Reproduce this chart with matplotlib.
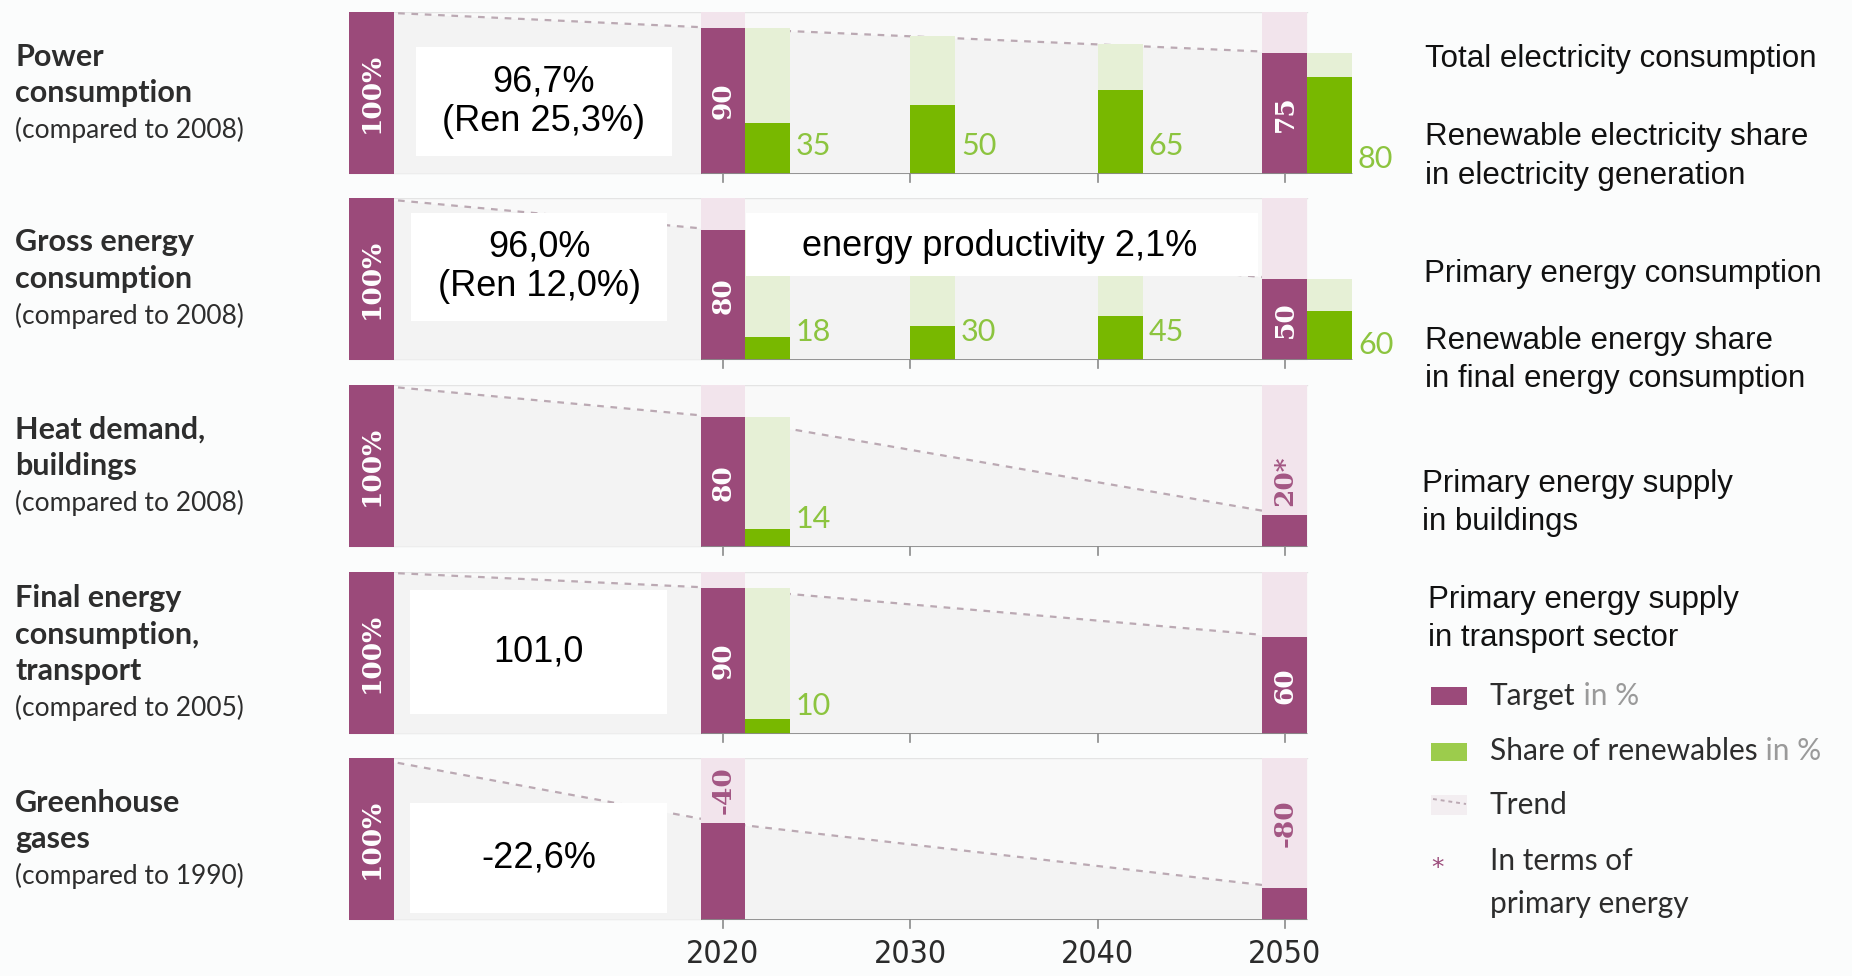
#energy concept targets, drawn as one row of bars per indicator
import matplotlib.pyplot as plt
from matplotlib import font_manager
from matplotlib.patches import Rectangle

W, H = 1852, 976

# indicators, top to bottom
row_titles = [["Power", "consumption"],
              ["Gross energy", "consumption"],
              ["Heat demand,", "buildings"],
              ["Final energy", "consumption,", "transport"],
              ["Greenhouse", "gases"]]
row_refs = ["(compared to 2008)", "(compared to 2008)", "(compared to 2008)",
            "(compared to 2005)", "(compared to 1990)"]

years = [2020, 2030, 2040, 2050]
target_years = [2020, 2050]

# targets in % of the reference year
power_target = [90, 75]
gross_target = [80, 50]
heat_target = [80, 20]
transport_target = [90, 60]
ghg_target = [-40, -80]   # change in %

# renewables share (in %) and the total level it refers to
power_share_years = [2020, 2030, 2040, 2050]
power_share = [35, 50, 65, 80]
power_total = [90, 85, 80, 75]
gross_share_years = [2020, 2030, 2040, 2050]
gross_share = [18, 30, 45, 60]
gross_total = [80, 70, 60, 50]
heat_share_years = [2020]
heat_share = [14]
heat_total = [80]
transport_share_years = [2020]
transport_share = [10]
transport_total = [90]

# current status
status_text = ["96,7%\n(Ren 25,3%)", "96,0%\n(Ren 12,0%)", None, "101,0", "-22,6%"]

rows = [
    dict(target=power_target, labels=["90", "75"], sy=power_share_years, share=power_share, total=power_total),
    dict(target=gross_target, labels=["80", "50"], sy=gross_share_years, share=gross_share, total=gross_total),
    dict(target=heat_target, labels=["80", "20*"], sy=heat_share_years, share=heat_share, total=heat_total),
    dict(target=transport_target, labels=["90", "60"], sy=transport_share_years, share=transport_share, total=transport_total),
    dict(target=[100 + v for v in ghg_target], labels=[str(v) for v in ghg_target], sy=[], share=[], total=[], cut=True),
]

purple = "#9b4a7a"
pink = "#f2e4ec"
green = "#78b800"
light_green = "#e6f0d6"
green_text = "#8cc43f"
bg_low = "#f3f3f3"
bg_high = "#f9f9f9"
fig_bg = "#fbfcfc"
axis_col = "#8a8a8a"
trend_col = "#bba9b3"

# narrow face for the year axis if there is one
fonts = font_manager.fontManager.ttflist
names = {f.name for f in fonts}
year_style = dict(family="Lato", fontsize=24)
if "Liberation Sans Narrow" in names:
    year_style = dict(family="Liberation Sans Narrow", fontsize=26)
elif any(f.name == "DejaVu Sans" and f.stretch == "condensed" for f in fonts):
    year_style = dict(family="DejaVu Sans", fontstretch="condensed", fontsize=23)

PX_2020, PX_YEAR = 723, 18.73
def year_at(px):
    return 2020 + (px - PX_2020) / PX_YEAR

ax_left, ax_right = 349, 1420
x0, x1 = year_at(ax_left), year_at(ax_right)
BAR_W = 2.4
row_top = [12, 198, 385, 572, 758]
row_h = 162

fig = plt.figure(figsize=(W / 100, H / 100), dpi=100, facecolor=fig_bg)

for i, r in enumerate(rows):
    top = row_top[i]
    ax = fig.add_axes([ax_left / W, 1 - (top + row_h) / H, (ax_right - ax_left) / W, row_h / H])
    ax.set_xlim(x0, x1)
    ax.set_ylim(0, 100)
    ax.axis("off")

    base_c = x0 + BAR_W / 2
    end = 2050 + BAR_W / 2
    tx = [x0, base_c] + target_years + [end]
    ty = [100, 100] + r["target"] + [r["target"][-1]]

    # panel background, darker below the trend
    ax.fill_between(tx, ty, 100, color=bg_high, lw=0, zorder=0)
    ax.fill_between(tx, 0, ty, color=bg_low, lw=0, zorder=0)
    ax.plot([x0, end], [100, 100], color="#e4e4e4", lw=1, zorder=1)
    ax.plot([x0, 2020 - BAR_W / 2], [0, 0], color="#d9d9d9", lw=1, zorder=1)
    ax.plot(tx[1:-1], ty[1:-1], color=trend_col, lw=1.6, ls=(0, (3, 3)), zorder=2)

    # reference year bar
    ax.bar(base_c, 100, width=BAR_W, color=purple, zorder=3)
    ax.text(base_c, 50, "100%", rotation=90, ha="center", va="center", color="white",
            family="DejaVu Serif", weight="bold", fontsize=19, zorder=6)

    # target bars
    for yr, h, lab in zip(target_years, r["target"], r["labels"]):
        ax.bar(yr, 100 - h, bottom=h, width=BAR_W, color=pink, zorder=3)
        ax.bar(yr, h, width=BAR_W, color=purple, zorder=4)
        if r.get("cut"):
            ax.text(yr, (h + 100) / 2, lab, rotation=90, ha="center", va="center", color="#a35683",
                    family="DejaVu Serif", weight="bold", fontsize=19, zorder=6)
        elif h < 30:
            ax.text(yr, h + 5, lab, rotation=90, ha="center", va="bottom", color="#a35683",
                    family="DejaVu Serif", weight="bold", fontsize=19, zorder=6)
        else:
            ax.text(yr, h / 2, lab, rotation=90, ha="center", va="center", color="white",
                    family="DejaVu Serif", weight="bold", fontsize=19, zorder=6)

    # renewables share bars
    right = end
    for yr, s, tot in zip(r["sy"], r["share"], r["total"]):
        left = yr + BAR_W / 2 if yr in target_years else yr
        ax.bar(left, tot, width=BAR_W, align="edge", color=light_green, zorder=3)
        ax.bar(left, s * tot / 100, width=BAR_W, align="edge", color=green, zorder=4)
        ly = 9 if yr == 2050 else 17
        ax.text(left + BAR_W + 0.3, ly, str(s), ha="left", va="center", color=green_text,
                family="Lato", fontsize=22, zorder=6)
        right = max(right, left + BAR_W)

    ax.plot([2020 - BAR_W / 2, right], [0, 0], color=axis_col, lw=2, zorder=5, solid_capstyle="butt")
    for yr in years:
        ax.plot([yr, yr], [0, -5], color=axis_col, lw=1.2, clip_on=False, zorder=5)

    if i == len(rows) - 1:
        for yr in years:
            ax.text(yr, -21, str(yr), ha="center", va="center", color="#2b2b2b", **year_style)

# overlay in pixel coordinates for captions, boxes and legend
ov = fig.add_axes([0, 0, 1, 1])
ov.set_xlim(0, W)
ov.set_ylim(H, 0)
ov.axis("off")

for i, (title, ref) in enumerate(zip(row_titles, row_refs)):
    lines = title + [ref]
    n = len(lines)
    c = row_top[i] + row_h / 2
    for k, line in enumerate(lines):
        y = c + (k - (n - 1) / 2) * 36.5
        last = k == n - 1
        ov.text(15, y, line, ha="left", va="center", color="#2d2d2d", family="Lato",
                weight="normal" if last else "bold", fontsize=19 if last else 22)

# status boxes
boxes = [(416, 47, 672, 156), (411, 213, 667, 321), None, (410, 590, 667, 714), (410, 803, 667, 913)]
for b, txt in zip(boxes, status_text):
    if b is None:
        continue
    ov.add_patch(Rectangle((b[0], b[1]), b[2] - b[0], b[3] - b[1], facecolor="white", lw=0, zorder=5))
    ov.text((b[0] + b[2]) / 2, (b[1] + b[3]) / 2, txt, ha="center", va="center", color="black",
            family="Liberation Sans", fontsize=26, linespacing=1.15, zorder=6)
ov.add_patch(Rectangle((746, 213), 512, 63, facecolor="white", lw=0, zorder=5))
ov.text(1000, 246, "energy productivity 2,1%", ha="center", va="center", color="black",
        family="Liberation Sans", fontsize=26, zorder=6)

# descriptions on the right
notes = [("Total electricity consumption", 1425, 59),
         ("Renewable electricity share", 1425, 137),
         ("in electricity generation", 1425, 176),
         ("Primary energy consumption", 1424, 274),
         ("Renewable energy share", 1425, 341),
         ("in final energy consumption", 1425, 379),
         ("Primary energy supply", 1422, 484),
         ("in buildings", 1422, 522),
         ("Primary energy supply", 1428, 600),
         ("in transport sector", 1428, 638)]
for txt, x, y in notes:
    ov.text(x, y, txt, ha="left", va="center", color="#111111", family="Liberation Sans", fontsize=22.5)

# legend
ov.add_patch(Rectangle((1431, 687), 36, 18, facecolor=purple, lw=0))
ov.add_patch(Rectangle((1431, 743), 36, 18, facecolor="#9ccc4c", lw=0))
ov.add_patch(Rectangle((1431, 795), 36, 20, facecolor="#f3eef1", lw=0))
ov.plot([1433, 1466], [799, 804], color=trend_col, lw=1.4, ls=(0, (2, 2)))
ov.text(1438, 868, "*", ha="center", va="center", color=purple, fontsize=18)

legend_rows = [("Target", " in %", 696), ("Share of renewables", " in %", 751),
               ("Trend", "", 805), ("In terms of", "", 861), ("primary energy", "", 904)]
for main, extra, y in legend_rows:
    t = ov.text(1490, y, main, ha="left", va="center", color="#2d2d2d", family="Lato", fontsize=21.5)
    if extra:
        ov.annotate(extra, xy=(1, 0), xycoords=t, ha="left", va="bottom", color="#9a9a9a",
                    family="Lato", fontsize=21.5)

fig.savefig("out.png", dpi=100, facecolor=fig_bg)
